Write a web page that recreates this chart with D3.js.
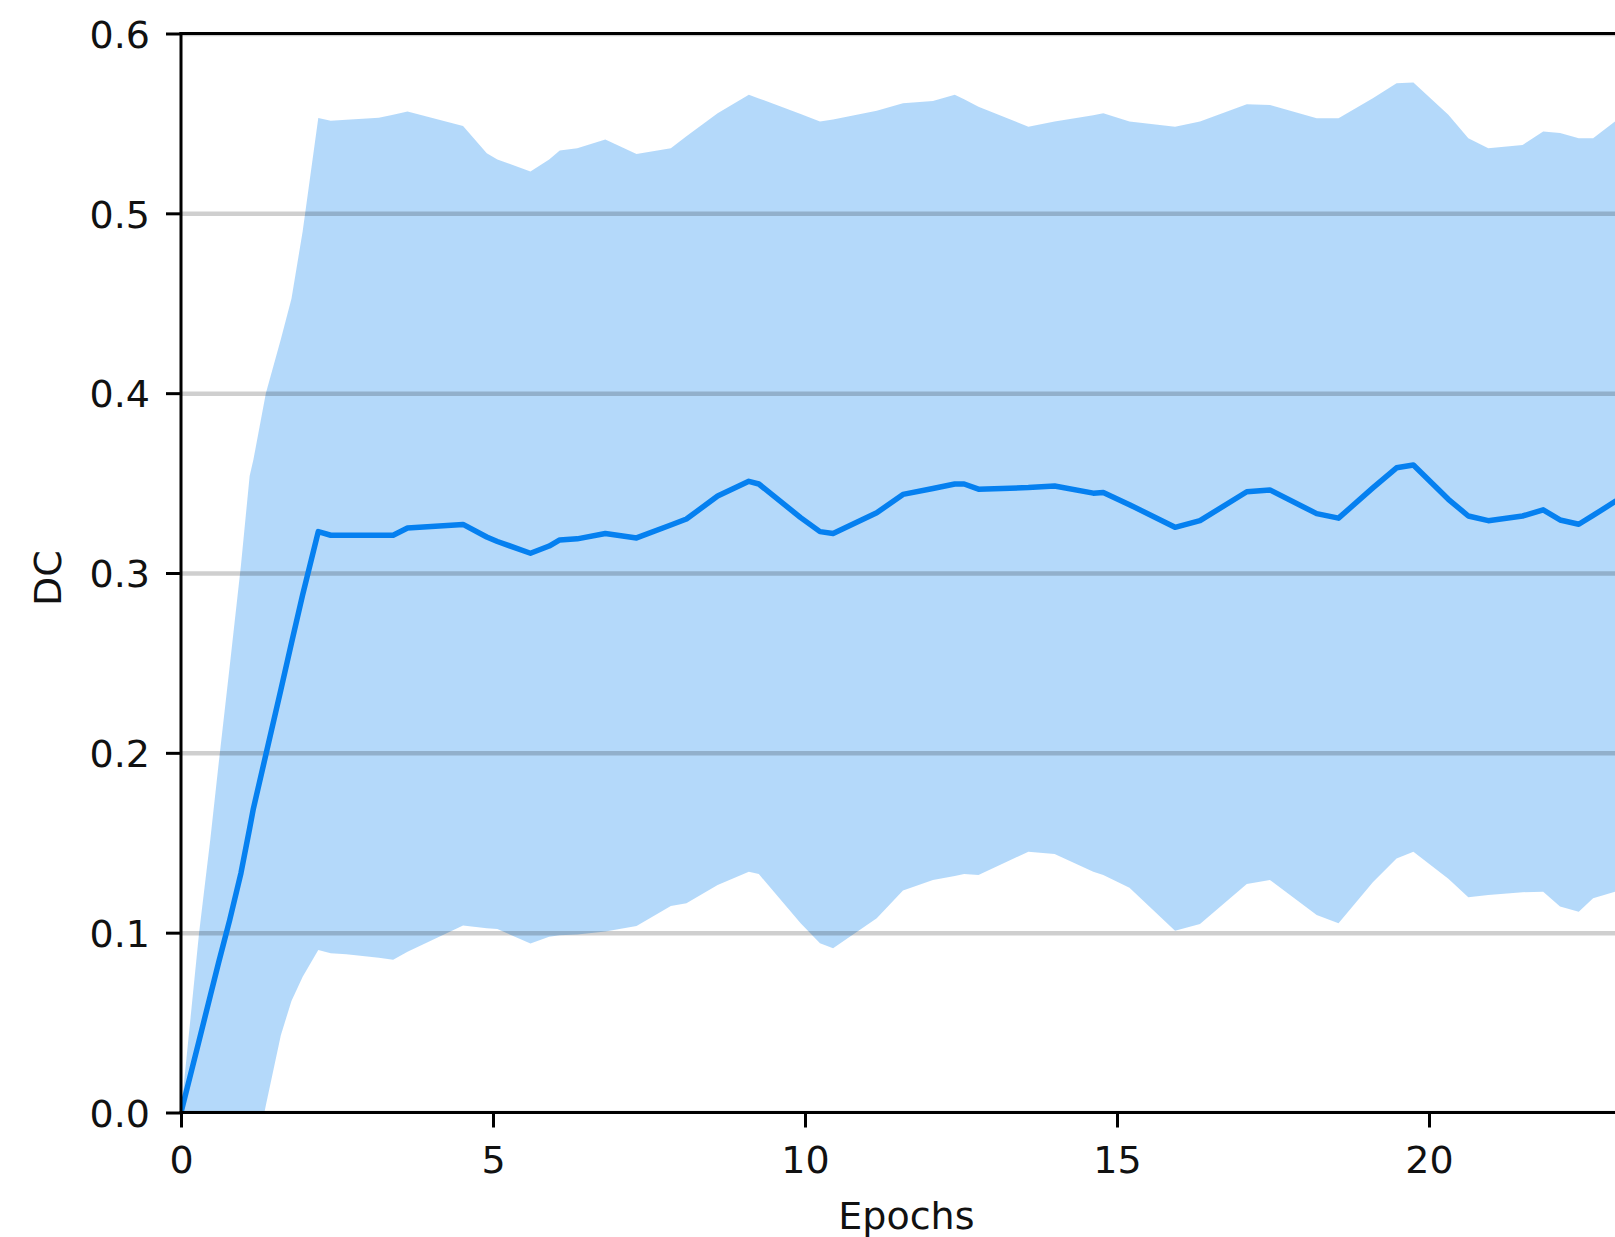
<!DOCTYPE html>
<html>
<head>
<meta charset="utf-8">
<script src="https://cdn.jsdelivr.net/npm/d3@7"></script>
<style>
  html, body { margin: 0; padding: 0; background: #ffffff; }
  svg { display: block; }
  text { font-family: "DejaVu Sans", sans-serif; }
</style>
</head>
<body>
<svg id="chart" width="1615" height="1237"></svg>
<script>
// ---- data ----
const epochs = [0, 0.29, 0.47, 0.6, 0.78, 0.96, 1.1, 1.16, 1.36, 1.6, 1.77, 1.95, 2.2, 2.4, 2.65, 3.17, 3.4, 3.63, 4.52, 4.9, 5.07, 5.6, 5.9, 6.07, 6.35, 6.8, 7.3, 7.85, 8.1, 8.6, 9.1, 9.26, 9.93, 10.24, 10.45, 11.15, 11.57, 12.05, 12.4, 12.55, 12.78, 13.58, 14.0, 14.62, 14.78, 15.2, 15.93, 16.33, 17.08, 17.45, 18.2, 18.55, 19.1, 19.48, 19.75, 20.31, 20.63, 20.95, 21.5, 21.83, 22.1, 22.4, 22.63, 22.98, 23.3];
const meanDC = [0, 0.040, 0.065, 0.083, 0.107, 0.133, 0.158, 0.169, 0.199, 0.235, 0.261, 0.288, 0.323, 0.321, 0.321, 0.321, 0.321, 0.325, 0.327, 0.320, 0.3175, 0.311, 0.315, 0.3184, 0.319, 0.322, 0.3195, 0.3267, 0.330, 0.3428, 0.351, 0.3495, 0.3308, 0.323, 0.322, 0.3335, 0.3437, 0.347, 0.3495, 0.3495, 0.3466, 0.3475, 0.3484, 0.3444, 0.3448, 0.338, 0.3254, 0.3291, 0.3452, 0.3462, 0.333, 0.3305, 0.3473, 0.3585, 0.3601, 0.341, 0.3317, 0.3291, 0.3317, 0.3351, 0.3295, 0.3271, 0.332, 0.3397, 0.345];
const upperDC = [0, 0.100, 0.152, 0.193, 0.248, 0.304, 0.354, 0.363, 0.400, 0.430, 0.4525, 0.490, 0.553, 0.5515, 0.552, 0.5532, 0.5548, 0.5566, 0.5486, 0.5334, 0.530, 0.5232, 0.530, 0.535, 0.5362, 0.541, 0.533, 0.5362, 0.5428, 0.5557, 0.5659, 0.5639, 0.5553, 0.551, 0.5522, 0.557, 0.5612, 0.5625, 0.5659, 0.5635, 0.5593, 0.5482, 0.551, 0.5545, 0.5557, 0.551, 0.5482, 0.551, 0.5607, 0.5603, 0.5529, 0.5529, 0.564, 0.5724, 0.5727, 0.5548, 0.5418, 0.5362, 0.538, 0.5455, 0.5447, 0.5418, 0.5418, 0.551, 0.556];
const lowerDC = [0, -0.020, -0.030, -0.040, -0.050, -0.060, -0.040, -0.030, 0.004, 0.043, 0.062, 0.0755, 0.0904, 0.0885, 0.088, 0.086, 0.085, 0.0894, 0.104, 0.1025, 0.102, 0.094, 0.0977, 0.0985, 0.099, 0.1006, 0.1037, 0.1148, 0.1163, 0.1265, 0.1339, 0.1326, 0.1052, 0.0941, 0.0913, 0.108, 0.1234, 0.1293, 0.1315, 0.1326, 0.1321, 0.145, 0.1438, 0.1339, 0.1321, 0.125, 0.1011, 0.1048, 0.1271, 0.1293, 0.1098, 0.1052, 0.128, 0.1413, 0.145, 0.130, 0.1197, 0.121, 0.1225, 0.1228, 0.1145, 0.1117, 0.1191, 0.1228, 0.126];
const xTicks = [0, 5, 10, 15, 20];
const yTicks = [0, 0.1, 0.2, 0.3, 0.4, 0.5, 0.6];
const xLabel = "Epochs";
const yLabel = "DC";

// ---- layout ----
const plotLeft = 181, plotTop = 33.5, plotBottom = 1112.5;
const xMax = 23.25, pxPerEpoch = 62.4;
const plotRight = plotLeft + xMax * pxPerEpoch;
const lineColor = "rgb(5,128,240)";
const fontSize = 38;
const textColor = "#111";

const svg = d3.select("#chart");
const x = d3.scaleLinear().domain([0, xMax]).range([plotLeft, plotRight]);
const y = d3.scaleLinear().domain([0, 0.6]).range([plotBottom, plotTop]);

const data = epochs.map((e, i) => ({ e, m: meanDC[i], u: upperDC[i], l: lowerDC[i] }));

svg.append("defs").append("clipPath").attr("id", "plotclip")
  .append("rect").attr("x", plotLeft).attr("y", plotTop)
  .attr("width", plotRight - plotLeft).attr("height", plotBottom - plotTop);

const plot = svg.append("g").attr("clip-path", "url(#plotclip)");

// band
plot.append("path")
  .datum(data)
  .attr("d", d3.area().x(d => x(d.e)).y0(d => y(d.l)).y1(d => y(d.u)))
  .attr("fill", lineColor).attr("fill-opacity", 0.3).attr("stroke", "none");

// horizontal grid
plot.append("g")
  .attr("transform", `translate(${plotLeft},0)`)
  .call(d3.axisLeft(y).tickValues(yTicks).tickSize(-(plotRight - plotLeft)).tickFormat(""))
  .call(g => g.select(".domain").remove())
  .call(g => g.selectAll("line").attr("stroke", "#000").attr("stroke-opacity", 0.19).attr("stroke-width", 4.5));

// mean line
plot.append("path")
  .datum(data)
  .attr("d", d3.line().x(d => x(d.e)).y(d => y(d.m)))
  .attr("fill", "none").attr("stroke", lineColor).attr("stroke-width", 5.5)
  .attr("stroke-linejoin", "round").attr("stroke-linecap", "butt");

// axes
const xAxis = svg.append("g")
  .attr("transform", `translate(0,${plotBottom})`)
  .call(d3.axisBottom(x).tickValues(xTicks).tickFormat(d3.format("d")).tickSize(15).tickPadding(17.5));
const yAxis = svg.append("g")
  .attr("transform", `translate(${plotLeft},0)`)
  .call(d3.axisLeft(y).tickValues(yTicks).tickFormat(d3.format(".1f")).tickSize(15).tickPadding(16));

[xAxis, yAxis].forEach(g => {
  g.select(".domain").remove();
  g.selectAll("line").attr("stroke", "#000").attr("stroke-width", 3);
  g.selectAll("text").attr("font-family", "DejaVu Sans, sans-serif").attr("font-size", fontSize).attr("fill", textColor);
});
xAxis.selectAll("text").attr("dy", "0.73em");
yAxis.selectAll("text").attr("dy", "0.36em");

// spines (left, bottom, top)
svg.append("line").attr("x1", plotLeft).attr("x2", plotLeft).attr("y1", plotTop).attr("y2", plotBottom)
  .attr("stroke", "#000").attr("stroke-width", 3).attr("stroke-linecap", "square");
svg.append("line").attr("x1", plotLeft).attr("x2", plotRight).attr("y1", plotBottom).attr("y2", plotBottom)
  .attr("stroke", "#000").attr("stroke-width", 3).attr("stroke-linecap", "square");
svg.append("line").attr("x1", plotLeft).attr("x2", plotRight).attr("y1", plotTop).attr("y2", plotTop)
  .attr("stroke", "#000").attr("stroke-width", 3).attr("stroke-linecap", "square");

// axis labels
svg.append("text")
  .attr("x", (plotLeft + plotRight) / 2).attr("y", 1229)
  .attr("text-anchor", "middle").attr("font-size", fontSize).attr("fill", textColor)
  .text(xLabel);
svg.append("text")
  .attr("transform", `translate(61,${(plotTop + plotBottom) / 2 + 5}) rotate(-90)`)
  .attr("text-anchor", "middle").attr("font-size", fontSize).attr("fill", textColor)
  .text(yLabel);
</script>
</body>
</html>
